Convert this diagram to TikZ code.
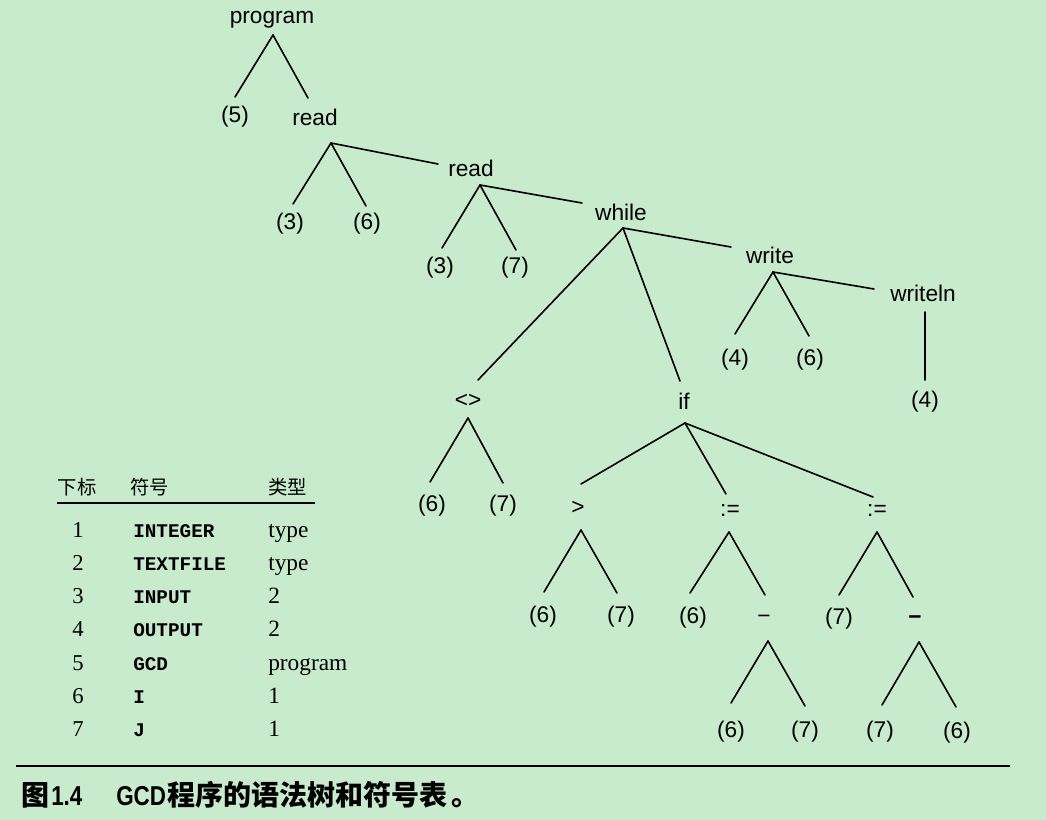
\documentclass[tikz,border=0pt]{standalone}
\usepackage{fontspec}
\usetikzlibrary{calc}
\newfontfamily\treefont{Liberation Sans}
\newfontfamily\capfont[FakeStretch=0.82]{Liberation Sans}
\newfontfamily\tabserif{Liberation Serif}
\newfontfamily\tabmono{Liberation Mono}
\newfontfamily\cjkfont{Noto Sans CJK SC}
\definecolor{bgc}{HTML}{C7EBCC}
\tikzset{
  tn/.style={font=\treefont\fontsize{17}{20}\selectfont, inner sep=0pt},
  edge/.style={line width=1.2pt, line cap=round},
  hd/.style={font=\cjkfont\fontsize{14.5}{16}\selectfont, inner sep=0pt, anchor=base west},
  numc/.style={font=\tabserif\fontsize{17}{20}\selectfont, inner sep=0pt, anchor=base},
  symc/.style={font=\tabmono\bfseries\fontsize{14.5}{16}\selectfont, inner sep=0pt, anchor=base west},
  typc/.style={font=\tabserif\fontsize{17.5}{20}\selectfont, inner sep=0pt, anchor=base west},
  capcjk/.style={font=\cjkfont\bfseries\fontsize{21}{24}\selectfont, inner sep=0pt, anchor=base west},
  caplat/.style={font=\capfont\bfseries\fontsize{20.5}{24}\selectfont, inner sep=0pt, anchor=base west},
  rulel/.style={line width=1.3pt}
}
\begin{document}
\begin{tikzpicture}[x=0.75pt,y=-0.75pt]
\useasboundingbox (0,0) rectangle (1046,820);
\fill[bgc] (0,0) rectangle (1046,820);

% ---------- tree nodes ----------
\node[tn] (prog) at (272,20) {program};
\node[tn] (n5) at (235,117) {(5)};
\node[tn] (read1) at (315,117) {read};
\node[tn] (r1a) at (290,224) {(3)};
\node[tn] (r1b) at (367,224) {(6)};
\node[tn] (read2) at (471,168) {read};
\node[tn] (r2a) at (440,268) {(3)};
\node[tn] (r2b) at (515,268) {(7)};
\node[tn] (while) at (621,212) {while};
\node[tn] (ne) at (468,401) {<>};
\node[tn] (ne6) at (432,506) {(6)};
\node[tn] (ne7) at (503,506) {(7)};
\node[tn] (if) at (684,401) {if};
\node[tn] (gt) at (578,508) {>};
\node[tn] (gt6) at (543,617) {(6)};
\node[tn] (gt7) at (621,617) {(7)};
\node[tn] (as1) at (730,511) {:=};
\node[tn] (as1a) at (693,618) {(6)};
\node[tn] (min1) at (764,619) {−};
\node[tn] (m1a) at (731,732) {(6)};
\node[tn] (m1b) at (805,732) {(7)};
\node[tn] (as2) at (877,511) {:=};
\node[tn] (as2a) at (839,619) {(7)};
\node[tn,font=\treefont\bfseries\fontsize{17}{20}\selectfont] (min2) at (915,620) {−};
\node[tn] (m2a) at (880,732) {(7)};
\node[tn] (m2b) at (957,733) {(6)};
\node[tn] (write) at (770,255) {write};
\node[tn] (w4) at (735,360) {(4)};
\node[tn] (w6) at (810,360) {(6)};
\node[tn] (writeln) at (923,293) {writeln};
\node[tn] (wl4) at (925,402) {(4)};

% ---------- tree edges ----------
\draw[edge] ($(prog)+(1,15)$) -- ($(n5)+(0,-20)$);
\draw[edge] ($(prog)+(1,15)$) -- ($(read1)+(-7,-19)$);
\draw[edge] ($(read1)+(16,26)$) -- ($(r1a)+(3,-20)$);
\draw[edge] ($(read1)+(16,26)$) -- ($(r1b)+(-1,-18)$);
\draw[edge] ($(read1)+(16,26)$) -- ($(read2)+(-33,-4)$);
\draw[edge] ($(read2)+(9,17)$) -- ($(r2a)+(2,-20)$);
\draw[edge] ($(read2)+(9,17)$) -- ($(r2b)+(1,-18)$);
\draw[edge] ($(read2)+(9,17)$) -- ($(while)+(-39,-9)$);
\draw[edge] ($(while)+(2,16)$) -- ($(ne)+(10,-21)$);
\draw[edge] ($(while)+(2,16)$) -- ($(if)+(-4,-20)$);
\draw[edge] ($(while)+(2,16)$) -- ($(write)+(-39,-8)$);
\draw[edge] ($(ne)+(0,17)$) -- ($(ne6)+(-2,-24)$);
\draw[edge] ($(ne)+(0,17)$) -- ($(ne7)+(0,-23)$);
\draw[edge] ($(if)+(1,22)$) -- ($(gt)+(3,-24)$);
\draw[edge] ($(if)+(1,22)$) -- ($(as1)+(-4,-17)$);
\draw[edge] ($(if)+(1,22)$) -- ($(as2)+(-4,-14)$);
\draw[edge] ($(gt)+(3,22)$) -- ($(gt6)+(1,-25)$);
\draw[edge] ($(gt)+(3,22)$) -- ($(gt7)+(-4,-24)$);
\draw[edge] ($(as1)+(-1,21)$) -- ($(as1a)+(-3,-25)$);
\draw[edge] ($(as1)+(-1,21)$) -- ($(min1)+(1,-24)$);
\draw[edge] ($(as2)+(0,21)$) -- ($(as2a)+(0,-24)$);
\draw[edge] ($(as2)+(0,21)$) -- ($(min2)+(-2,-23)$);
\draw[edge] ($(min1)+(4,22)$) -- ($(m1a)+(0,-29)$);
\draw[edge] ($(min1)+(4,22)$) -- ($(m1b)+(0,-26)$);
\draw[edge] ($(min2)+(4,22)$) -- ($(m2a)+(2,-27)$);
\draw[edge] ($(min2)+(4,22)$) -- ($(m2b)+(-1,-26)$);
\draw[edge] ($(write)+(3,17)$) -- ($(w4)+(0,-26)$);
\draw[edge] ($(write)+(3,17)$) -- ($(w6)+(-1,-24)$);
\draw[edge] ($(write)+(3,17)$) -- ($(writeln)+(-49,-4)$);
\draw[edge] ($(writeln)+(2,19)$) -- ($(wl4)+(0,-22)$);

% ---------- symbol table ----------
\node[hd,anchor=base] (h1) at (77,494) {下标};
\node[hd] (h2) at (130,494) {符号};
\node[hd] (h3) at (268,494) {类型};
\draw[rulel] (57,503) -- (315,503);

\node[numc] (i1) at (78,537) {1};
\node[symc] (s1) at (133,537) {INTEGER};
\node[typc] (t1) at (268,537) {type};
\node[numc] (i2) at (78,570) {2};
\node[symc] (s2) at (133,570) {TEXTFILE};
\node[typc] (t2) at (268,570) {type};
\node[numc] (i3) at (78,603) {3};
\node[symc] (s3) at (133,603) {INPUT};
\node[typc] (t3) at (268,603) {2};
\node[numc] (i4) at (78,636) {4};
\node[symc] (s4) at (133,636) {OUTPUT};
\node[typc] (t4) at (268,636) {2};
\node[numc] (i5) at (78,670) {5};
\node[symc] (s5) at (133,670) {GCD};
\node[typc] (t5) at (268,670) {program};
\node[numc] (i6) at (78,703) {6};
\node[symc] (s6) at (133,703) {I};
\node[typc] (t6) at (268,703) {1};
\node[numc] (i7) at (78,736) {7};
\node[symc] (s7) at (133,736) {J};
\node[typc] (t7) at (268,736) {1};

% ---------- caption ----------
\draw[rulel] (16,766) -- (1010,766);
\node[capcjk] (c1) at (21,805) {图};
\node[caplat] (c2) at (51,805) {1.4};
\node[caplat] (c3) at (116,805) {GCD};
\node[capcjk] (c4) at (167,805) {程序的语法树和符号表};
\node[capcjk] (c5) at (451,805) {。};
\end{tikzpicture}
\end{document}
